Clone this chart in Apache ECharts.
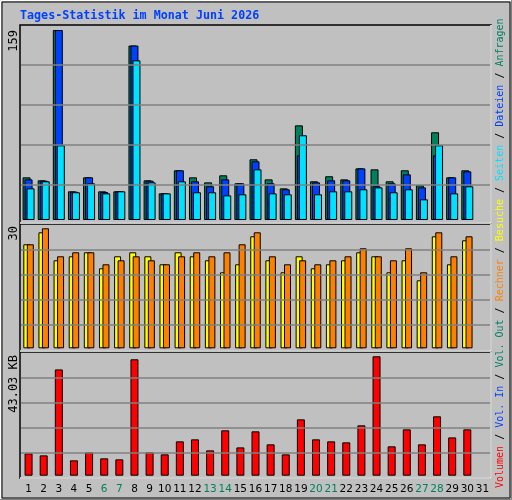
<!DOCTYPE html>
<html><head><meta charset="utf-8">
<script src="https://cdn.jsdelivr.net/npm/echarts@6/dist/echarts.min.js"></script>
<style>html,body{margin:0;padding:0;background:#c0c0c0}#c{width:512px;height:500px}</style>
</head><body><div id="c"></div>
<script>
const days = Array.from({length:31},(_,i)=>String(i+1));
const weekend = ['6','7','13','14','20','21','27','28'];
const hits  = [35.7,33.2,159,24,35.7,24,24,146,33.2,22.3,41.6,35.7,31.5,37.4,30.7,50.8,34,26.5,79.2,32.4,36.6,34,43.2,42.4,32.4,41.6,29,73.4,35.7,41.6,null];
const files = [34,32.9,159,23.7,35.7,23.4,24,146,32.9,22.3,41.6,32.4,28.2,34,30.7,49.1,30.7,25.7,54.1,31.5,33.2,33.2,43.2,28.2,30.7,38.2,27.3,54.1,35.7,40.7,null];
const pages = [26.5,32.4,62.5,23.2,30.7,22.3,24,133.6,31.5,22.3,32.4,23.2,23.2,20.6,21.5,42.4,22.3,21.5,70.9,21.5,24,24,25.7,27.3,23.2,25.7,17.3,62.5,22.3,28.2,null];
const visits = [26,29,22,23,24,20,23,24,23,21,24,23,22,19,21,28,22,19,23,20,21,22,24,23,19,22,17,28,21,27,null];
const sites  = [26,30,23,24,24,21,22,23,22,21,23,24,23,24,26,29,23,21,22,21,22,23,25,23,22,25,19,29,23,28,null];
const kbytes = [8.05,7.33,38.3,5.53,8.41,6.25,5.89,41.95,8.41,7.69,12.38,13.1,9.13,16.35,10.2,15.99,11.3,7.69,20.3,13.1,12.38,12.02,18.15,43.03,10.58,16.7,11.3,21.4,13.8,16.7,null];
const maxLabels = ['159','30','43.03 KB'];

const chart = echarts.init(document.getElementById('c'));
const L=21, W=469;
const grids=[{left:L,width:W,top:30,height:190},{left:L,width:W,top:228.3,height:120},{left:L,width:W,top:356.3,height:119.4}];
const maxes=[159,30,43.03];
const gridPx=[[35,75,115,155],[24,49,74,99],[23.4,48.4,73.4,98.4]];
function ml(i){return {silent:true,symbol:'none',label:{show:false},lineStyle:{color:'#808080',type:'solid',width:1.5},
  data:gridPx[i].map(p=>({yAxis:p*maxes[i]/grids[i].height}))};}
const bs={borderColor:'#000',borderWidth:1};
function bar(name,data,color,gi,w,gap,withMl){const s={name,type:'bar',xAxisIndex:gi,yAxisIndex:gi,data,barWidth:w,barGap:gap,
  itemStyle:Object.assign({color},bs),animation:false}; if(withMl) s.markLine=ml(gi); return s;}
function frame(x,y,w,h){return [
  {type:'rect',shape:{x,y,width:w,height:h},style:{fill:'none',stroke:'#000',lineWidth:1.5},z:100},
  {type:'polyline',shape:{points:[[x+w,y],[x+w,y+h],[x,y+h]]},style:{stroke:'#fff',lineWidth:1.5,fill:'none'},z:101}];}
chart.setOption({
  backgroundColor:'#c0c0c0',
  animation:false,
  grid:grids,
  xAxis:[0,1,2].map(i=>({gridIndex:i,type:'category',data:days,boundaryGap:true,
    axisLine:{show:false},axisTick:{show:false},
    axisLabel:i<2?{show:false}:{show:true,interval:0,margin:8,fontFamily:'DejaVu Sans',fontSize:10.5,
      color:(v)=>weekend.includes(v)?'#00805c':'#000'}})),
  yAxis:[0,1,2].map(i=>({gridIndex:i,type:'value',min:0,max:maxes[i],show:false,splitLine:{show:false}})),
  series:[
    bar('Anfragen',hits,'#00805c',0,8,'-75%',true),
    bar('Dateien',files,'#0040ff',0,8,'-75%'),
    bar('Seiten',pages,'#00e0ff',0,8,'-75%'),
    bar('Besuche',visits,'#ffff00',1,7,'-50%',true),
    bar('Rechner',sites,'#ff8000',1,7,'-50%'),
    bar('Volumen',kbytes,'#ff0000',2,8,'0%',true)
  ],
  graphic:[
    {type:'rect',shape:{x:0.5,y:0.5,width:511,height:499},style:{fill:'none',stroke:'#808080',lineWidth:1},z:90},
    {type:'polyline',shape:{points:[[0.5,499],[0.5,0.5],[511,0.5]]},style:{stroke:'#fff',lineWidth:1,fill:'none'},z:91},
    {type:'rect',shape:{x:2,y:2,width:508,height:496},style:{fill:'none',stroke:'#000',lineWidth:1},z:90},
    {type:'text',x:20,y:10,style:{text:'Tages-Statistik im Monat Juni 2026',fill:'#0040ff',font:'bold 11.7px "DejaVu Sans Mono"'},z:100},
    ...frame(20,25,471,198),...frame(20,224,471,127),...frame(20,352,471,126),
    {type:'text',x:8,y:30,rotation:Math.PI/2,style:{text:maxLabels[0],align:'right',verticalAlign:'top',fill:'#000',font:'12px "DejaVu Sans Mono"'},z:100},
    {type:'text',x:8,y:226,rotation:Math.PI/2,style:{text:maxLabels[1],align:'right',verticalAlign:'top',fill:'#000',font:'12px "DejaVu Sans Mono"'},z:100},
    {type:'text',x:8,y:355,rotation:Math.PI/2,style:{text:maxLabels[2],align:'right',verticalAlign:'top',fill:'#000',font:'12px "DejaVu Sans Mono"'},z:100},
    {type:'text',x:495,y:488,rotation:Math.PI/2,z:100,style:{align:'left',verticalAlign:'top',
      font:'10px "DejaVu Sans Mono"',
      text:'{r|Volumen} / {b|Vol. In} / {g|Vol. Out} / {o|Rechner} / {y|Besuche} / {c|Seiten} / {b|Dateien} / {g|Anfragen}',
      fill:'#000',
      rich:{r:{fill:'#ff0000',font:'10px "DejaVu Sans Mono"'},b:{fill:'#0040ff',font:'10px "DejaVu Sans Mono"'},g:{fill:'#00805c',font:'10px "DejaVu Sans Mono"'},
        o:{fill:'#ff8000',font:'10px "DejaVu Sans Mono"'},y:{fill:'#ffff00',font:'10px "DejaVu Sans Mono"'},c:{fill:'#00e0ff',font:'10px "DejaVu Sans Mono"'}}}}
  ]
});
</script></body></html>
